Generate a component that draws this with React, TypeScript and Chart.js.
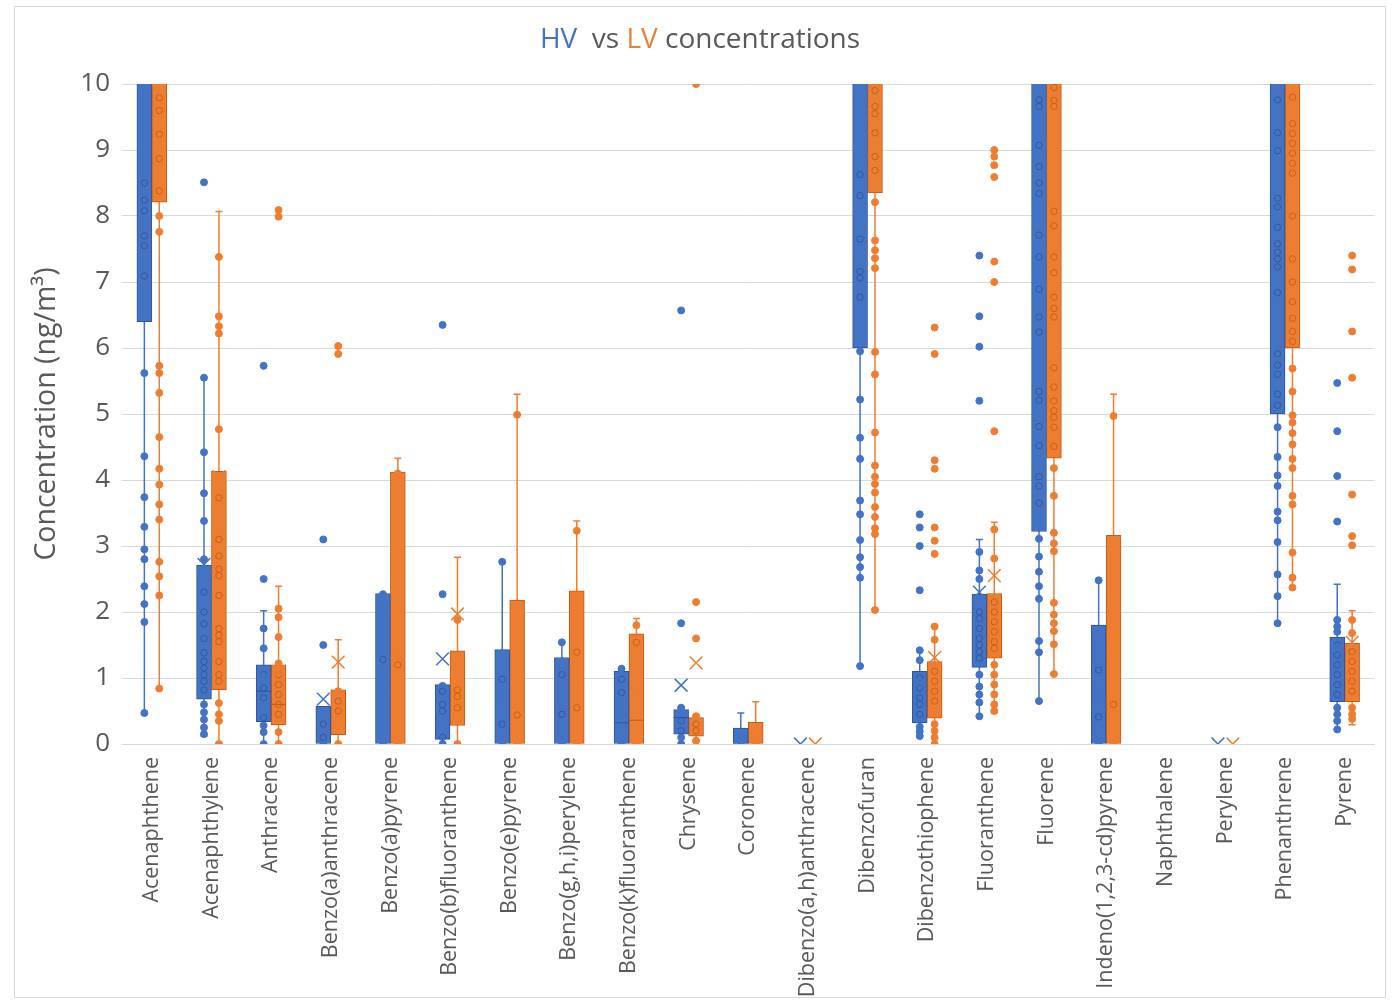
import React, { useEffect, useRef } from "react";
import { Chart, registerables } from "chart.js";
Chart.register(...registerables);

const categories = [
  "Acenaphthene", "Acenaphthylene", "Anthracene", "Benzo(a)anthracene", "Benzo(a)pyrene",
  "Benzo(b)fluoranthene", "Benzo(e)pyrene", "Benzo(g,h,i)perylene", "Benzo(k)fluoranthene",
  "Chrysene", "Coronene", "Dibenzo(a,h)anthracene", "Dibenzofuran", "Dibenzothiophene",
  "Fluoranthene", "Fluorene", "Indeno(1,2,3-cd)pyrene", "Naphthalene", "Perylene",
  "Phenanthrene", "Pyrene",
];

const yTicks = [0, 1, 2, 3, 4, 5, 6, 7, 8, 9, 10];

// HV series (box statistics)
const hvQ1 = [6.4, 0.68, 0.34, 0.0, 0.0, 0.07, 0.0, 0.0, 0.0, 0.15, 0.0, null, 6.0, 0.32, 1.16, 3.22, 0.0, null, null, 5.0, 0.64];
const hvQ3 = [12, 2.71, 1.2, 0.57, 2.28, 0.9, 1.43, 1.31, 1.1, 0.52, 0.24, null, 12, 1.1, 2.27, 12, 1.8, null, null, 12, 1.62];
const hvMin = [0.45, 0.12, 0.0, 0.0, 0.0, 0.0, 0.0, 0.0, 0.0, 0.0, 0.0, null, 1.18, 0.12, 0.42, 0.65, 0.0, null, null, 1.83, 0.22];
const hvMax = [12, 5.55, 2.02, 0.57, 2.28, 0.9, 2.76, 1.54, 1.14, 0.55, 0.47, null, 12, 1.42, 3.1, 12, 2.48, null, null, 12, 2.42];
const hvMedian = [null, null, 0.8, null, null, null, null, null, 0.32, 0.4, null, null, null, null, null, null, null, null, null, null, null];
const hvMean = [null, 2.72, 1.0, 0.68, 0.83, 1.29, 0.75, 0.56, 0.52, 0.89, 0.1, 0.0, null, 0.93, 2.3, null, 0.76, null, 0.0, null, 1.44];
const hvPoints = [
  [5.62, 4.36, 3.74, 3.29, 2.95, 2.8, 2.39, 2.12, 1.85, 0.47],
  [8.51, 5.55, 4.42, 3.8, 3.38, 2.8, 0.6, 0.48, 0.37, 0.25, 0.15],
  [5.73, 2.5, 1.75, 1.45, 0.28, 0.18, 0],
  [3.1, 1.5, 0],
  [2.27, 0],
  [6.35, 2.27, 0.88, 0],
  [2.76, 0],
  [1.54, 0],
  [1.14, 0],
  [6.57, 1.83, 0.55, 0.1, 0],
  [0],
  [],
  [5.95, 5.22, 4.64, 4.32, 3.69, 3.48, 3.09, 2.83, 2.68, 2.52, 1.18],
  [3.48, 3.28, 3.0, 2.33, 1.42, 1.27, 0.26, 0.19, 0.12],
  [7.4, 6.48, 6.02, 5.2, 2.91, 2.63, 2.5, 1.05, 0.87, 0.75, 0.63, 0.42],
  [3.11, 2.84, 2.61, 2.39, 2.2, 1.56, 1.39, 0.65],
  [2.48, 0],
  [],
  [],
  [4.8, 4.35, 4.07, 3.91, 3.52, 3.39, 3.06, 2.57, 2.24, 1.83],
  [5.47, 4.74, 4.06, 3.37, 1.88, 1.78, 1.7, 0.55, 0.45, 0.35, 0.22],
];
const hvInner = [
  [8.5, 8.24, 8.08, 7.7, 7.55, 7.09],
  [2.3, 2.0, 1.82, 1.6, 1.38, 1.25, 1.15, 1.05, 0.95, 0.82],
  [1.05, 0.85, 0.7, 0.4],
  [0.3, 0.1],
  [1.28],
  [0.8, 0.6, 0.5, 0.1],
  [0.98, 0.3],
  [1.05, 0.45],
  [0.98, 0.78],
  [0.35, 0.2],
  [],
  [],
  [8.63, 8.31, 7.65, 7.16, 7.06, 6.77],
  [1.0, 0.85, 0.7, 0.6, 0.45],
  [2.0, 1.9, 1.75, 1.6, 1.5, 1.4, 1.3],
  [9.76, 9.66, 9.07, 8.75, 8.5, 8.34, 7.71, 7.38, 6.89, 6.47, 6.24, 5.34, 5.21, 4.81, 4.52, 4.05, 3.91, 3.65],
  [1.12, 0.41],
  [],
  [],
  [9.76, 9.26, 8.99, 8.27, 8.14, 7.83, 7.58, 7.45, 7.35, 7.23, 6.84, 5.91, 5.74, 5.6, 5.3, 5.13],
  [1.5, 1.35, 1.2, 1.05, 0.9, 0.75],
];

// LV series (box statistics)
const lvQ1 = [8.21, 0.82, 0.29, 0.14, 0.0, 0.28, 0.0, 0.0, 0.0, 0.12, 0.0, null, 8.35, 0.39, 1.3, 4.33, 0.0, null, null, 6.0, 0.64];
const lvQ3 = [12, 4.13, 1.2, 0.82, 4.12, 1.41, 2.18, 2.32, 1.67, 0.4, 0.33, null, 12, 1.25, 2.28, 12, 3.16, null, null, 12, 1.53];
const lvMin = [0.84, 0.0, 0.0, 0.0, 0.0, 0.0, 0.0, 0.0, 0.0, 0.05, 0.0, null, 2.03, 0.0, 0.47, 1.06, 0.0, null, null, 2.37, 0.29];
const lvMax = [12, 8.07, 2.39, 1.58, 4.33, 2.83, 5.3, 3.38, 1.9, 0.42, 0.64, null, 12, 1.78, 3.36, 12, 5.3, null, null, 12, 2.02];
const lvMedian = [null, null, 0.6, null, null, null, null, null, 0.36, null, null, null, null, null, null, null, null, null, null, null, null];
const lvMean = [null, 4.05, 1.1, 1.24, 1.37, 1.97, 1.29, 1.01, 0.73, 1.23, 0.12, 0.0, null, 1.31, 2.55, null, 1.4, null, 0.0, null, 1.54];
const lvPoints = [
  [8.0, 7.76, 5.73, 5.62, 5.32, 4.65, 4.17, 3.93, 3.63, 3.4, 2.76, 2.54, 2.25, 0.84],
  [7.38, 6.48, 6.33, 6.22, 4.77, 0.62, 0.45, 0.35, 0],
  [8.09, 7.99, 2.05, 1.92, 1.62, 1.22, 0.18, 0],
  [6.03, 5.91, 0.8, 0],
  [4.1, 0],
  [1.88, 0],
  [4.99, 0],
  [3.23, 0],
  [1.8, 0],
  [10.0, 2.15, 1.6, 0.42, 0.05],
  [0],
  [],
  [8.21, 7.63, 7.48, 7.36, 7.21, 5.94, 5.6, 4.72, 4.22, 4.05, 3.94, 3.81, 3.59, 3.44, 3.27, 3.18, 2.03],
  [6.31, 5.91, 4.3, 4.17, 3.28, 3.08, 2.88, 1.78, 1.58, 0.3, 0.2, 0.1, 0],
  [9.0, 8.9, 8.77, 8.59, 7.31, 7.0, 4.74, 3.25, 2.81, 1.2, 1.05, 0.9, 0.75, 0.6, 0.5],
  [4.18, 3.76, 3.2, 3.04, 2.92, 2.14, 1.96, 1.83, 1.71, 1.51, 1.06],
  [4.97, 0],
  [],
  [],
  [5.69, 5.34, 4.98, 4.87, 4.71, 4.54, 4.32, 4.18, 3.76, 3.63, 2.9, 2.52, 2.37],
  [7.4, 7.19, 6.25, 5.55, 3.78, 3.15, 3.01, 1.88, 1.68, 0.55, 0.45, 0.38],
];
const lvInner = [
  [9.79, 9.6, 9.24, 8.87, 8.38],
  [3.73, 3.1, 2.85, 2.65, 2.55, 2.25, 1.75, 1.65, 1.55, 1.25, 1.05, 0.95],
  [1.05, 0.9, 0.75, 0.6, 0.45],
  [0.65, 0.5],
  [1.2],
  [0.82, 0.72, 0.55],
  [0.44],
  [1.39, 0.55],
  [1.54],
  [0.3, 0.2],
  [],
  [],
  [9.9, 9.66, 9.55, 9.26, 8.9, 8.69],
  [1.1, 0.95, 0.8, 0.65],
  [2.15, 2.0, 1.85, 1.7, 1.55, 1.45],
  [9.95, 9.75, 9.66, 8.07, 7.85, 7.38, 7.14, 6.77, 6.6, 6.47, 5.7, 5.41, 5.2, 5.05, 4.95, 4.8, 4.51],
  [0.6],
  [],
  [],
  [9.8, 9.4, 9.25, 9.1, 8.95, 8.8, 8.65, 8.0, 7.35, 7.0, 6.7, 6.45, 6.25, 6.1],
  [1.4, 1.25, 1.1, 0.95, 0.8],
];

const HV = "#4472C4";
const HV_DARK = "#2F5597";
const LV = "#ED7D31";
const LV_DARK = "#C55A11";
const GRAY = "#595959";
const FONT = '"Open Sans", "Noto Sans", sans-serif';

type P = { x: number; y: number | null };

const boxData = (q1: (number | null)[], q3: (number | null)[], off: number) => {
  const out: { x: number; y: [number, number] }[] = [];
  q1.forEach((v, i) => {
    if (v != null && q3[i] != null) out.push({ x: i + off, y: [v, q3[i] as number] });
  });
  return out;
};

const listPoints = (lists: number[][], off: number): P[] => {
  const out: P[] = [];
  lists.forEach((arr, i) => arr.forEach((v) => out.push({ x: i + off, y: v })));
  return out;
};

const singlePoints = (vals: (number | null)[], off: number): P[] => {
  const out: P[] = [];
  vals.forEach((v, i) => {
    if (v != null) out.push({ x: i + off, y: v });
  });
  return out;
};

const whiskerLines = (mn: (number | null)[], mx: (number | null)[], off: number): P[] => {
  const out: P[] = [];
  mn.forEach((v, i) => {
    if (v == null || mx[i] == null) return;
    out.push({ x: i + off, y: mx[i] as number }, { x: i + off, y: v }, { x: i + off, y: null });
  });
  return out;
};

const capPoints = (mn: (number | null)[], mx: (number | null)[], q1: (number | null)[], q3: (number | null)[], off: number): P[] => {
  const out: P[] = [];
  mn.forEach((v, i) => {
    if (v == null) return;
    if ((mx[i] as number) > (q3[i] as number)) out.push({ x: i + off, y: mx[i] as number });
    if (v < (q1[i] as number)) out.push({ x: i + off, y: v });
  });
  return out;
};

const titlePlugin = {
  id: "multiColorTitle",
  afterDraw(chart: any) {
    const ctx = chart.ctx;
    const parts: [string, string][] = [
      ["HV", HV],
      ["  vs ", GRAY],
      ["LV", LV],
      [" concentrations", GRAY],
    ];
    ctx.save();
    ctx.font = `28px ${FONT}`;
    ctx.textBaseline = "middle";
    ctx.textAlign = "left";
    const total = parts.reduce((s, p) => s + ctx.measureText(p[0]).width, 0);
    let x = chart.width / 2 - total / 2;
    for (const [t, c] of parts) {
      ctx.fillStyle = c;
      ctx.fillText(t, x, 33);
      x += ctx.measureText(t).width;
    }
    ctx.restore();
  },
};

export default function App() {
  const ref = useRef<HTMLCanvasElement | null>(null);

  useEffect(() => {
    if (!ref.current) return;
    const OFF = 0.125;
    const base = { xAxisID: "x2", yAxisID: "y" };
    const sc = { ...base, type: "scatter" as const };
    const chart = new Chart(ref.current, {
      type: "bar",
      data: {
        labels: categories,
        datasets: [
          {
            ...sc,
            label: "HV whisker",
            data: whiskerLines(hvMin, hvMax, -OFF),
            showLine: true,
            spanGaps: false,
            borderColor: HV,
            borderWidth: 1.5,
            pointRadius: 0,
            order: 5,
          } as any,
          {
            ...sc,
            label: "LV whisker",
            data: whiskerLines(lvMin, lvMax, OFF),
            showLine: true,
            spanGaps: false,
            borderColor: LV,
            borderWidth: 1.5,
            pointRadius: 0,
            order: 5,
          } as any,
          {
            ...base,
            label: "HV",
            data: boxData(hvQ1, hvQ3, -OFF) as any,
            backgroundColor: HV,
            borderColor: HV_DARK,
            borderWidth: 1,
            borderSkipped: false,
            grouped: false,
            categoryPercentage: 1.0,
            barPercentage: 1.0,
            order: 3,
          } as any,
          {
            ...base,
            label: "LV",
            data: boxData(lvQ1, lvQ3, OFF) as any,
            backgroundColor: LV,
            borderColor: LV_DARK,
            borderWidth: 1,
            borderSkipped: false,
            grouped: false,
            categoryPercentage: 1.0,
            barPercentage: 1.0,
            order: 3,
          } as any,
          {
            ...sc,
            label: "HV caps",
            data: capPoints(hvMin, hvMax, hvQ1, hvQ3, -OFF),
            pointStyle: "line",
            pointRadius: 3.5,
            borderColor: HV,
            pointBorderWidth: 1.5,
            order: 2,
          } as any,
          {
            ...sc,
            label: "LV caps",
            data: capPoints(lvMin, lvMax, lvQ1, lvQ3, OFF),
            pointStyle: "line",
            pointRadius: 3.5,
            borderColor: LV,
            pointBorderWidth: 1.5,
            order: 2,
          } as any,
          {
            ...sc,
            label: "HV median",
            data: singlePoints(hvMedian, -OFF),
            pointStyle: "line",
            pointRadius: 7.5,
            borderColor: HV_DARK,
            pointBorderWidth: 1,
            order: 1,
          } as any,
          {
            ...sc,
            label: "LV median",
            data: singlePoints(lvMedian, OFF),
            pointStyle: "line",
            pointRadius: 7.5,
            borderColor: LV_DARK,
            pointBorderWidth: 1,
            order: 1,
          } as any,
          {
            ...sc,
            label: "HV inner",
            data: listPoints(hvInner, -OFF),
            pointStyle: "circle",
            pointRadius: 3.2,
            backgroundColor: "rgba(0,0,0,0)",
            borderColor: "rgba(47,85,151,0.85)",
            pointBorderWidth: 1,
            order: 1,
          } as any,
          {
            ...sc,
            label: "LV inner",
            data: listPoints(lvInner, OFF),
            pointStyle: "circle",
            pointRadius: 3.2,
            backgroundColor: "rgba(0,0,0,0)",
            borderColor: "rgba(197,90,17,0.85)",
            pointBorderWidth: 1,
            order: 1,
          } as any,
          {
            ...sc,
            label: "HV points",
            data: listPoints(hvPoints, -OFF),
            pointStyle: "circle",
            pointRadius: 3.5,
            backgroundColor: HV,
            borderColor: HV,
            pointBorderWidth: 1,
            order: 1,
          } as any,
          {
            ...sc,
            label: "LV points",
            data: listPoints(lvPoints, OFF),
            pointStyle: "circle",
            pointRadius: 3.5,
            backgroundColor: LV,
            borderColor: LV,
            pointBorderWidth: 1,
            order: 1,
          } as any,
          {
            ...sc,
            label: "HV mean",
            data: singlePoints(hvMean, -OFF),
            pointStyle: "crossRot",
            pointRadius: 9,
            borderColor: HV,
            pointBorderWidth: 1.5,
            order: 0,
          } as any,
          {
            ...sc,
            label: "LV mean",
            data: singlePoints(lvMean, OFF),
            pointStyle: "crossRot",
            pointRadius: 9,
            borderColor: LV,
            pointBorderWidth: 1.5,
            order: 0,
          } as any,
        ],
      },
      options: {
        animation: false,
        responsive: true,
        maintainAspectRatio: false,
        layout: { padding: { top: 77, right: 8, left: 0, bottom: 0 } },
        plugins: {
          legend: { display: false },
          tooltip: { enabled: false },
          title: { display: false },
        },
        scales: {
          x: {
            type: "category",
            offset: true,
            grid: { display: false, drawTicks: false },
            border: { display: true, color: "#d9d9d9" },
            ticks: {
              autoSkip: false,
              minRotation: 90,
              maxRotation: 90,
              padding: 13,
              color: GRAY,
              font: { family: FONT, size: 21.5 },
            },
            afterFit: (s: any) => {
              s.height = 253;
            },
          },
          x2: {
            type: "linear",
            display: false,
            offset: false,
            min: -0.5,
            max: categories.length - 0.5,
            grid: { offset: false },
            afterBuildTicks: (s: any) => {
              s.ticks = categories.map((_, i) => ({ value: i }));
            },
          },
          y: {
            type: "linear",
            min: yTicks[0],
            max: yTicks[yTicks.length - 1],
            afterBuildTicks: (s: any) => {
              s.ticks = yTicks.map((v) => ({ value: v }));
            },
            grid: { color: "#d9d9d9", lineWidth: 1, drawTicks: false },
            border: { display: false },
            ticks: {
              padding: 12,
              color: GRAY,
              font: { family: FONT, size: 26 },
            },
            title: {
              display: true,
              text: "Concentration (ng/m\u00B3)",
              color: GRAY,
              font: { family: FONT, size: 28.5 },
              padding: { top: 15, bottom: 0 },
            },
            afterFit: (s: any) => {
              s.width = 107;
            },
          },
        },
      },
      plugins: [titlePlugin],
    });
    return () => chart.destroy();
  }, []);

  return (
    <div
      style={{
        position: "absolute",
        left: 14,
        top: 6,
        width: 1372,
        height: 992,
        border: "1px solid #d9d9d9",
        boxSizing: "border-box",
        background: "#fff",
      }}
    >
      <div style={{ position: "relative", width: "100%", height: "100%" }}>
        <canvas ref={ref} />
      </div>
    </div>
  );
}
